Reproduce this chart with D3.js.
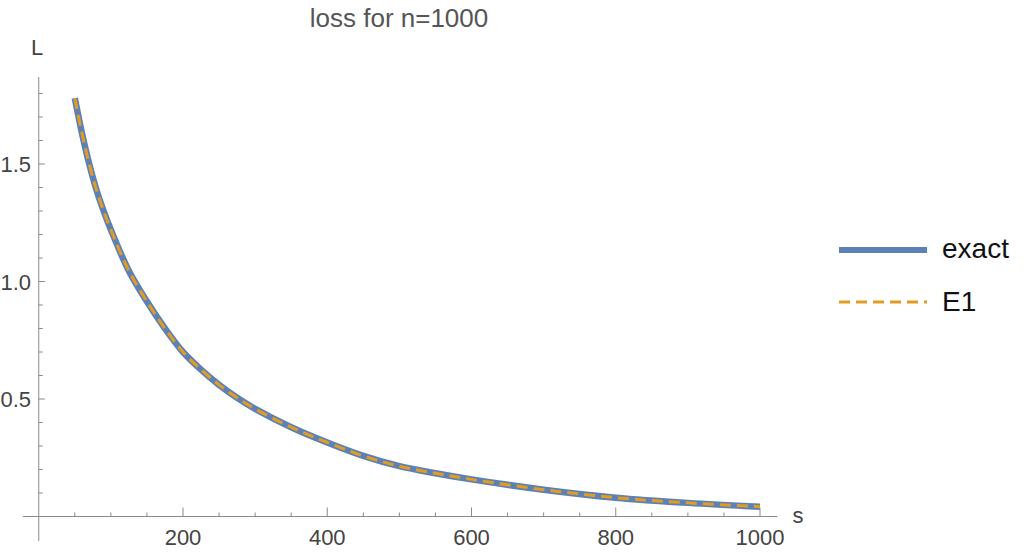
<!DOCTYPE html>
<html>
<head>
<meta charset="utf-8">
<script src="https://cdn.jsdelivr.net/npm/d3@7"></script>
<style>
  body { margin: 0; background: #fff; }
  text { font-family: "Liberation Sans", Arial, sans-serif; }
</style>
</head>
<body>
<svg id="chart" width="1024" height="558"></svg>
<script>
// values
let sValues = [50, 60, 70, 80, 90, 100, 125, 150, 175, 200, 225, 250, 275, 300, 350, 400, 450, 500, 550, 600, 700, 800, 900, 1000];
let exactValues = [1.78, 1.63, 1.50, 1.39, 1.30, 1.22, 1.045, 0.915, 0.80, 0.70, 0.625, 0.56, 0.505, 0.458, 0.38, 0.315, 0.258, 0.214, 0.184, 0.158, 0.114, 0.080, 0.058, 0.042];
let e1Values = [1.78, 1.63, 1.50, 1.39, 1.30, 1.22, 1.045, 0.915, 0.80, 0.70, 0.625, 0.56, 0.505, 0.458, 0.38, 0.315, 0.258, 0.214, 0.184, 0.158, 0.114, 0.080, 0.058, 0.042];
let xMajorTicks = [200, 400, 600, 800, 1000];
let yMajorTicks = [0.5, 1.0, 1.5];
let seriesNames = ["exact", "E1"];

let chart = d3.select("#chart");
let axisColor = "#8a8a8a";
let labelColor = "#444";

let x = d3.scaleLinear()
            .domain([0, 1000])
            .range([38.75, 760]);
let y = d3.scaleLinear()
            .domain([0, 1])
            .range([516.5, 281.5]);

// title
chart.append("text")
    .attr("x", 399)
    .attr("y", 27)
    .attr("text-anchor", "middle")
    .attr("font-size", "26px")
    .attr("fill", "#555")
    .text("loss for n=1000");

// axis lines
chart.append("line")
    .attr("x1", x(-22)).attr("x2", x(1024))
    .attr("y1", y(0)).attr("y2", y(0))
    .attr("stroke", axisColor).attr("stroke-width", 1);
chart.append("line")
    .attr("x1", x(0)).attr("x2", x(0))
    .attr("y1", y(1.87)).attr("y2", y(-0.105))
    .attr("stroke", axisColor).attr("stroke-width", 1);

// x ticks: major + minor every 50
let xMinor = d3.range(50, 1001, 50).filter(function(d){ return xMajorTicks.indexOf(d) < 0; });
chart.selectAll(".xminor")
    .data(xMinor)
    .enter()
    .append("line")
        .attr("x1", function(d){ return x(d); })
        .attr("x2", function(d){ return x(d); })
        .attr("y1", y(0))
        .attr("y2", y(0) - 4)
        .attr("stroke", axisColor);
chart.selectAll(".xmajor")
    .data(xMajorTicks)
    .enter()
    .append("line")
        .attr("x1", function(d){ return x(d); })
        .attr("x2", function(d){ return x(d); })
        .attr("y1", y(0))
        .attr("y2", y(0) - 9)
        .attr("stroke", axisColor);
chart.selectAll(".xlabel")
    .data(xMajorTicks)
    .enter()
    .append("text")
        .attr("x", function(d){ return x(d); })
        .attr("y", 545)
        .attr("text-anchor", "middle")
        .attr("font-size", "22px")
        .attr("fill", labelColor)
        .text(function(d){ return d; });

// y ticks: major + minor every 0.1
let yMinor = d3.range(1, 19).map(function(d){ return d / 10; })
    .filter(function(d){ return yMajorTicks.indexOf(d) < 0; });
chart.selectAll(".yminor")
    .data(yMinor)
    .enter()
    .append("line")
        .attr("x1", x(0))
        .attr("x2", x(0) + 4)
        .attr("y1", function(d){ return y(d); })
        .attr("y2", function(d){ return y(d); })
        .attr("stroke", axisColor);
chart.selectAll(".ymajor")
    .data(yMajorTicks)
    .enter()
    .append("line")
        .attr("x1", x(0))
        .attr("x2", x(0) + 6)
        .attr("y1", function(d){ return y(d); })
        .attr("y2", function(d){ return y(d); })
        .attr("stroke", axisColor);
chart.selectAll(".ylabel")
    .data(yMajorTicks)
    .enter()
    .append("text")
        .attr("x", 31)
        .attr("y", function(d){ return y(d) + 8; })
        .attr("text-anchor", "end")
        .attr("font-size", "22px")
        .attr("fill", labelColor)
        .text(function(d){ return d3.format(".1f")(d); });

// axis names
chart.append("text")
    .attr("x", 37).attr("y", 55)
    .attr("text-anchor", "middle")
    .attr("font-size", "22px")
    .attr("fill", labelColor)
    .text("L");
chart.append("text")
    .attr("x", 798).attr("y", 523)
    .attr("text-anchor", "middle")
    .attr("font-size", "22px")
    .attr("fill", labelColor)
    .text("s");

// curves
let line = d3.line()
    .x(function(d){ return x(d[0]); })
    .y(function(d){ return y(d[1]); })
    .curve(d3.curveCatmullRom.alpha(0.5));

let exactData = sValues.map(function(s, i){ return [s, exactValues[i]]; });
let e1Data = sValues.map(function(s, i){ return [s, e1Values[i]]; });

chart.append("path")
    .datum(exactData)
    .attr("d", line)
    .attr("fill", "none")
    .attr("stroke", "#5E81B5")
    .attr("stroke-width", 6.5);

chart.append("path")
    .datum(e1Data)
    .attr("d", line)
    .attr("fill", "none")
    .attr("stroke", "#E19C24")
    .attr("stroke-width", 3)
    .attr("stroke-dasharray", "11,6");

// legend
chart.append("line")
    .attr("x1", 839).attr("x2", 927)
    .attr("y1", 250).attr("y2", 250)
    .attr("stroke", "#5E81B5")
    .attr("stroke-width", 6);
chart.append("line")
    .attr("x1", 839).attr("x2", 927)
    .attr("y1", 302).attr("y2", 302)
    .attr("stroke", "#E19C24")
    .attr("stroke-width", 3)
    .attr("stroke-dasharray", "11,6");
chart.selectAll(".legtext")
    .data(seriesNames)
    .enter()
    .append("text")
        .attr("x", 942)
        .attr("y", function(d, i){ return 258 + i * 53; })
        .attr("font-size", "28px")
        .attr("fill", "#111")
        .text(function(d){ return d; });
</script>
</body>
</html>
